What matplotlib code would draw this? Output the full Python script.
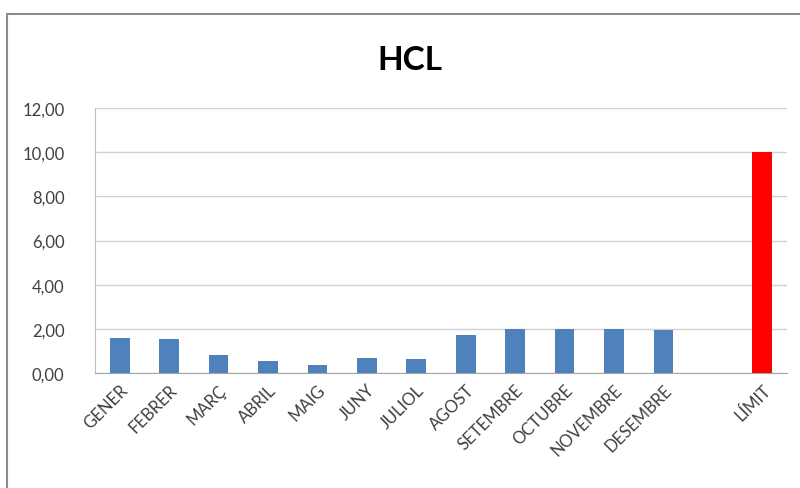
import matplotlib.pyplot as plt
from matplotlib.patches import Rectangle
from matplotlib.ticker import FuncFormatter

plt.rcParams['font.family'] = ['Lato', 'DejaVu Sans']

# dades
mesos = ["GENER", "FEBRER", "MARÇ", "ABRIL", "MAIG", "JUNY", "JULIOL",
         "AGOST", "SETEMBRE", "OCTUBRE", "NOVEMBRE", "DESEMBRE", "", "LÍMIT"]
valors = [1.6, 1.55, 0.8, 0.55, 0.35, 0.7, 0.65,
          1.7, 2.0, 2.0, 2.0, 1.95, 0, 10.0]
colors = ["#4F81BD"] * 13 + ["#FF0000"]
yticks = [0, 2, 4, 6, 8, 10, 12]

fig = plt.figure(figsize=(8, 4.89), dpi=100)
W, H = 800, 489

# marc exterior
fig.patches.append(Rectangle((7 / W, -0.1), 1.1, 1.1 - 15 / H, transform=fig.transFigure,
                             fill=False, edgecolor="#8c8c8c", linewidth=1.5))

ax = fig.add_axes([95 / W, 1 - 374 / H, (787 - 95) / W, (374 - 109) / H])

x = range(len(mesos))
ax.bar(x, valors, width=0.4, color=colors, zorder=3)

ax.set_xlim(-0.5, len(mesos) - 0.5)
ax.set_ylim(0, 12)
ax.set_yticks(yticks)
ax.yaxis.set_major_formatter(FuncFormatter(lambda v, p: f"{v:.2f}".replace(".", ",")))
ax.set_xticks(list(x))
ax.set_xticklabels(mesos, rotation=45, ha="right", rotation_mode="anchor")

ax.grid(axis="y", color="#d0d0d0", linewidth=1, zorder=0)
for s in ["top", "right"]:
    ax.spines[s].set_visible(False)
ax.spines["left"].set_color("#bfbfbf")
ax.spines["bottom"].set_color("#a6a6a6")
ax.tick_params(axis="y", length=0, pad=22, labelsize=12, labelcolor="#404040")
ax.tick_params(axis="x", length=0, pad=6, labelsize=12, labelcolor="#404040")

fig.text(410 / W, 1 - 61 / H, "HCL", ha="center", va="center",
         fontsize=24, fontweight="bold", color="black")

fig.savefig("out.png", dpi=100)
